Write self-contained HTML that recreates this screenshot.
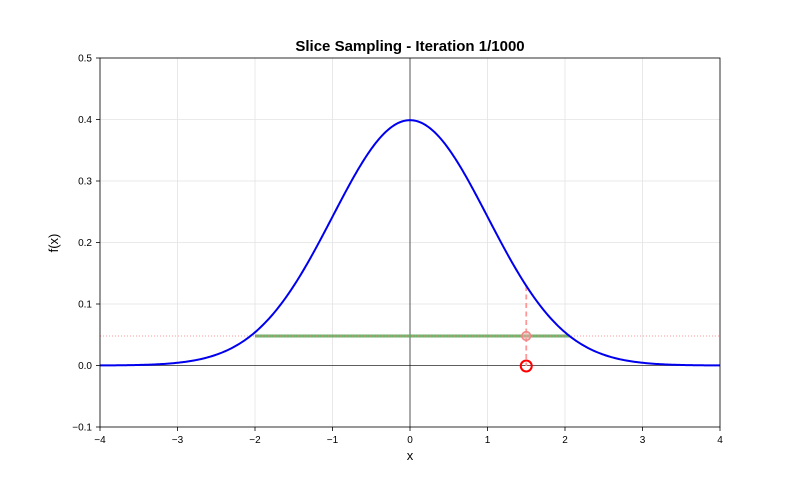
<!DOCTYPE html>
<html><head><meta charset="utf-8"><style>body{margin:0;background:#fff}svg{display:block}</style></head>
<body>
<svg id="s" width="800" height="480" xmlns="http://www.w3.org/2000/svg" font-family="Liberation Sans, DejaVu Sans, sans-serif">
<rect width="800" height="480" fill="#fff"/>
<g id="grid" stroke="#e3e3e3" stroke-width="0.8"></g>
<line x1="100" y1="365.5" x2="720" y2="365.5" stroke="#000" stroke-width="0.8" opacity="0.8"/>
<line x1="410" y1="58" x2="410" y2="427" stroke="#000" stroke-width="0.7" opacity="0.9"/>
<line x1="255" y1="336" x2="570" y2="336" stroke="#5aa552" stroke-width="3" opacity="0.85"/>
<line x1="100" y1="336" x2="720" y2="336" stroke="#ff8080" stroke-width="1" stroke-dasharray="1,2" opacity="0.8"/>
<line x1="526.25" y1="286" x2="526.25" y2="366" stroke="#ff9999" stroke-width="1.8" stroke-dasharray="5,3.5"/>
<path id="curve" fill="none" stroke="#0000ee" stroke-width="2"/>
<circle cx="526.25" cy="336" r="4.3" fill="#f4b0b0" fill-opacity="0.5" stroke="#f08888" stroke-width="1.6"/>
<circle cx="526.25" cy="366" r="5.5" fill="none" stroke="#ff0000" stroke-width="2"/>
<rect x="100" y="58" width="620" height="369" fill="none" stroke="#000" stroke-width="0.8"/>
<g id="ticks" font-size="10" fill="#000"></g>
<text x="410" y="51" text-anchor="middle" font-size="15" font-weight="bold">Slice Sampling - Iteration 1/1000</text>
<text x="410" y="460" text-anchor="middle" font-size="13">x</text>
<text transform="translate(58,243) rotate(-90)" text-anchor="middle" font-size="13">f(x)</text>
</svg>
<script>
var X=function(v){return 100+(v+4)*77.5},Y=function(v){return 365.5-v*615};
var d="";for(var i=0;i<=400;i++){var x=-4+i*0.02,y=Math.exp(-x*x/2)/Math.sqrt(2*Math.PI);d+=(i?"L":"M")+X(x).toFixed(2)+","+Y(y).toFixed(2);}
document.getElementById("curve").setAttribute("d",d);
var g=document.getElementById("grid"),t=document.getElementById("ticks"),h="",gh="";
for(var k=-4;k<=4;k++){var px=X(k);gh+='<line x1="'+px+'" y1="58" x2="'+px+'" y2="427"/>';
h+='<line x1="'+px+'" y1="427" x2="'+px+'" y2="431" stroke="#000" stroke-width="0.8"/><text x="'+px+'" y="443" text-anchor="middle">'+(k<0?"\u2212"+(-k):k)+'</text>';}
for(var j=-1;j<=5;j++){var v=j/10,py=Y(v);gh+='<line x1="100" y1="'+py+'" x2="720" y2="'+py+'"/>';
h+='<line x1="96" y1="'+py+'" x2="100" y2="'+py+'" stroke="#000" stroke-width="0.8"/><text x="92" y="'+(py+3.5)+'" text-anchor="end">'+(v<0?"\u22120.1":v.toFixed(1))+'</text>';}
g.innerHTML=gh;t.innerHTML=h;
</script>
</body></html>
